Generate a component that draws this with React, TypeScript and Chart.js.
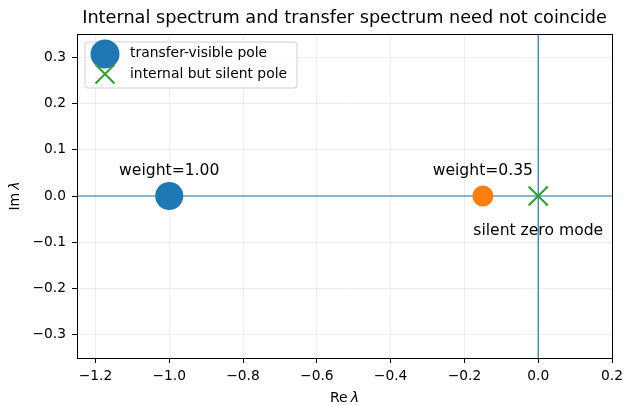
import React, { useEffect, useRef } from "react";
import { Chart, registerables } from "chart.js";

Chart.register(...registerables);

// ---- data ----
const xTicks = [-1.2, -1.0, -0.8, -0.6, -0.4, -0.2, 0.0, 0.2];
const yTicks = [-0.3, -0.2, -0.1, 0.0, 0.1, 0.2, 0.3];
const xRange = [-1.25, 0.2];
const yRange = [-0.35, 0.35];

const visiblePoleRe = [-1.0, -0.15];
const visiblePoleIm = [0.0, 0.0];
const visiblePoleWeights = [1.0, 0.35];
const silentPoleRe = [0.0];
const silentPoleIm = [0.0];

const annotationTexts = ["weight=1.00", "weight=0.35", "silent zero mode"];
const annotationRe = [-1.0, -0.15, 0.0];
const annotationIm = [0.055, 0.055, -0.075];

const legendLabels = ["transfer-visible pole", "internal but silent pole"];

const BLUE = "#1f77b4";
const ORANGE = "#ff7f0e";
const GREEN = "#2ca02c";
const FONT = "'DejaVu Sans', sans-serif";

const fmt = (v: number) => (v < 0 ? "\u2212" : "") + Math.abs(v).toFixed(1);

const drawX = (ctx: CanvasRenderingContext2D, cx: number, cy: number, h: number) => {
  ctx.save();
  ctx.strokeStyle = GREEN;
  ctx.lineWidth = 2;
  ctx.beginPath();
  ctx.moveTo(cx - h, cy - h);
  ctx.lineTo(cx + h, cy + h);
  ctx.moveTo(cx - h, cy + h);
  ctx.lineTo(cx + h, cy - h);
  ctx.stroke();
  ctx.restore();
};

const overlayPlugin = {
  id: "overlay",
  afterDraw(chart: any) {
    const { ctx, chartArea, scales } = chart;
    const xs = scales.x;
    const ys = scales.y;
    ctx.save();
    // frame
    ctx.strokeStyle = "#000";
    ctx.lineWidth = 1;
    ctx.strokeRect(
      Math.round(chartArea.left) + 0.5,
      Math.round(chartArea.top) + 0.5,
      Math.round(chartArea.right - chartArea.left),
      Math.round(chartArea.bottom - chartArea.top)
    );
    // title
    ctx.fillStyle = "#000";
    ctx.textAlign = "center";
    ctx.textBaseline = "middle";
    ctx.font = `17.7px ${FONT}`;
    const cx = (chartArea.left + chartArea.right) / 2;
    ctx.fillText("Internal spectrum and transfer spectrum need not coincide", cx, 18);

    // x axis title: Re λ
    ctx.font = `14px ${FONT}`;
    const reW = ctx.measureText("Re").width;
    ctx.font = `italic 14px ${FONT}`;
    const lamW = ctx.measureText("\u03bb").width;
    const gap = 3;
    const total = reW + gap + lamW;
    ctx.textAlign = "left";
    ctx.font = `14px ${FONT}`;
    ctx.fillText("Re", cx - total / 2, 398);
    ctx.font = `italic 14px ${FONT}`;
    ctx.fillText("\u03bb", cx - total / 2 + reW + gap, 398);

    // y axis title: Im λ (rotated)
    ctx.save();
    const cy = (chartArea.top + chartArea.bottom) / 2;
    ctx.translate(15, cy);
    ctx.rotate(-Math.PI / 2);
    ctx.font = `14px ${FONT}`;
    const imW = ctx.measureText("Im").width;
    const tot2 = imW + gap + lamW;
    ctx.fillText("Im", -tot2 / 2, 0);
    ctx.font = `italic 14px ${FONT}`;
    ctx.fillText("\u03bb", -tot2 / 2 + imW + gap, 0);
    ctx.restore();

    // annotations
    ctx.textAlign = "center";
    ctx.font = `15.6px ${FONT}`;
    annotationTexts.forEach((t, i) => {
      ctx.fillText(t, xs.getPixelForValue(annotationRe[i]), ys.getPixelForValue(annotationIm[i]));
    });

    // legend
    const lx = 85, ly = 42, lw = 212, lh = 46, r = 3;
    ctx.beginPath();
    ctx.moveTo(lx + r, ly);
    ctx.lineTo(lx + lw - r, ly);
    ctx.quadraticCurveTo(lx + lw, ly, lx + lw, ly + r);
    ctx.lineTo(lx + lw, ly + lh - r);
    ctx.quadraticCurveTo(lx + lw, ly + lh, lx + lw - r, ly + lh);
    ctx.lineTo(lx + r, ly + lh);
    ctx.quadraticCurveTo(lx, ly + lh, lx, ly + lh - r);
    ctx.lineTo(lx, ly + r);
    ctx.quadraticCurveTo(lx, ly, lx + r, ly);
    ctx.closePath();
    ctx.fillStyle = "rgba(255,255,255,0.8)";
    ctx.fill();
    ctx.strokeStyle = "#d0d0d0";
    ctx.lineWidth = 1;
    ctx.stroke();

    ctx.fillStyle = BLUE;
    ctx.beginPath();
    ctx.arc(105, 54, 14.5, 0, Math.PI * 2);
    ctx.fill();
    drawX(ctx, 105, 74, 9.5);

    ctx.fillStyle = "#000";
    ctx.textAlign = "left";
    ctx.font = `13.9px ${FONT}`;
    ctx.fillText(legendLabels[0], 130, 53);
    ctx.fillText(legendLabels[1], 130, 74);
    ctx.restore();
  },
};

export default function App() {
  const ref = useRef<HTMLCanvasElement | null>(null);
  useEffect(() => {
    document.body.style.margin = "0";
    const canvas = ref.current!;
    const poles = visiblePoleRe.map((x, i) => ({ x, y: visiblePoleIm[i] }));
    const radii = visiblePoleWeights.map((w) => (w >= 0.99 ? 14 : 10.5));
    const chart = new Chart(canvas, {
      type: "scatter",
      data: {
        datasets: [
          {
            data: [poles[0]],
            backgroundColor: BLUE,
            borderColor: BLUE,
            pointRadius: radii[0],
            pointHoverRadius: radii[0],
            borderWidth: 0,
            order: 0,
          },
          {
            data: [poles[1]],
            backgroundColor: ORANGE,
            borderColor: ORANGE,
            pointRadius: radii[1],
            pointHoverRadius: radii[1],
            borderWidth: 0,
            order: 0,
          },
          {
            data: silentPoleRe.map((x, i) => ({ x, y: silentPoleIm[i] })),
            pointStyle: "crossRot",
            borderColor: GREEN,
            backgroundColor: GREEN,
            pointRadius: 13.5,
            pointHoverRadius: 13.5,
            pointBorderWidth: 2,
            order: 0,
          } as any,
          {
            data: [
              { x: xRange[0], y: 0 },
              { x: xRange[1], y: 0 },
            ],
            showLine: true,
            borderColor: BLUE,
            borderWidth: 1.2,
            pointRadius: 0,
            order: 5,
          },
          {
            data: [
              { x: 0, y: yRange[0] },
              { x: 0, y: yRange[1] },
            ],
            showLine: true,
            borderColor: BLUE,
            borderWidth: 1.2,
            pointRadius: 0,
            order: 5,
          },
        ],
      },
      options: {
        responsive: false,
        animation: false,
        events: [],
        layout: { autoPadding: false, padding: { top: 34, right: 12, left: 0, bottom: 0 } },
        plugins: { legend: { display: false }, tooltip: { enabled: false }, title: { display: false } },
        scales: {
          x: {
            type: "linear",
            min: xRange[0],
            max: xRange[1],
            afterBuildTicks: (s: any) => {
              s.ticks = xTicks.map((v) => ({ value: v }));
            },
            afterFit: (s: any) => {
              s.height = 47;
              s.paddingLeft = 0;
              s.paddingRight = 0;
            },
            border: { display: false },
            grid: { color: "#e9e9e9", lineWidth: 0.8, tickColor: "#000", tickLength: 5, tickWidth: 1 },
            ticks: {
              callback: (v: any) => fmt(Number(v)),
              color: "#000",
              font: { family: FONT, size: 13.8 },
              padding: 5,
              maxRotation: 0,
              autoSkip: false,
            },
          },
          y: {
            type: "linear",
            min: yRange[0],
            max: yRange[1],
            afterBuildTicks: (s: any) => {
              s.ticks = yTicks.map((v) => ({ value: v }));
            },
            afterFit: (s: any) => {
              s.width = 77;
              s.paddingTop = 0;
              s.paddingBottom = 0;
            },
            border: { display: false },
            grid: { color: "#e9e9e9", lineWidth: 0.8, tickColor: "#000", tickLength: 5, tickWidth: 1 },
            ticks: {
              callback: (v: any) => fmt(Number(v)),
              color: "#000",
              font: { family: FONT, size: 13.8 },
              padding: 6,
              autoSkip: false,
            },
          },
        },
      },
      plugins: [overlayPlugin],
    });
    return () => chart.destroy();
  }, []);
  return (
    <div style={{ position: "absolute", left: 0, top: 0, width: 624, height: 405, background: "#fff" }}>
      <canvas ref={ref} width={624} height={405} style={{ display: "block" }} />
    </div>
  );
}
